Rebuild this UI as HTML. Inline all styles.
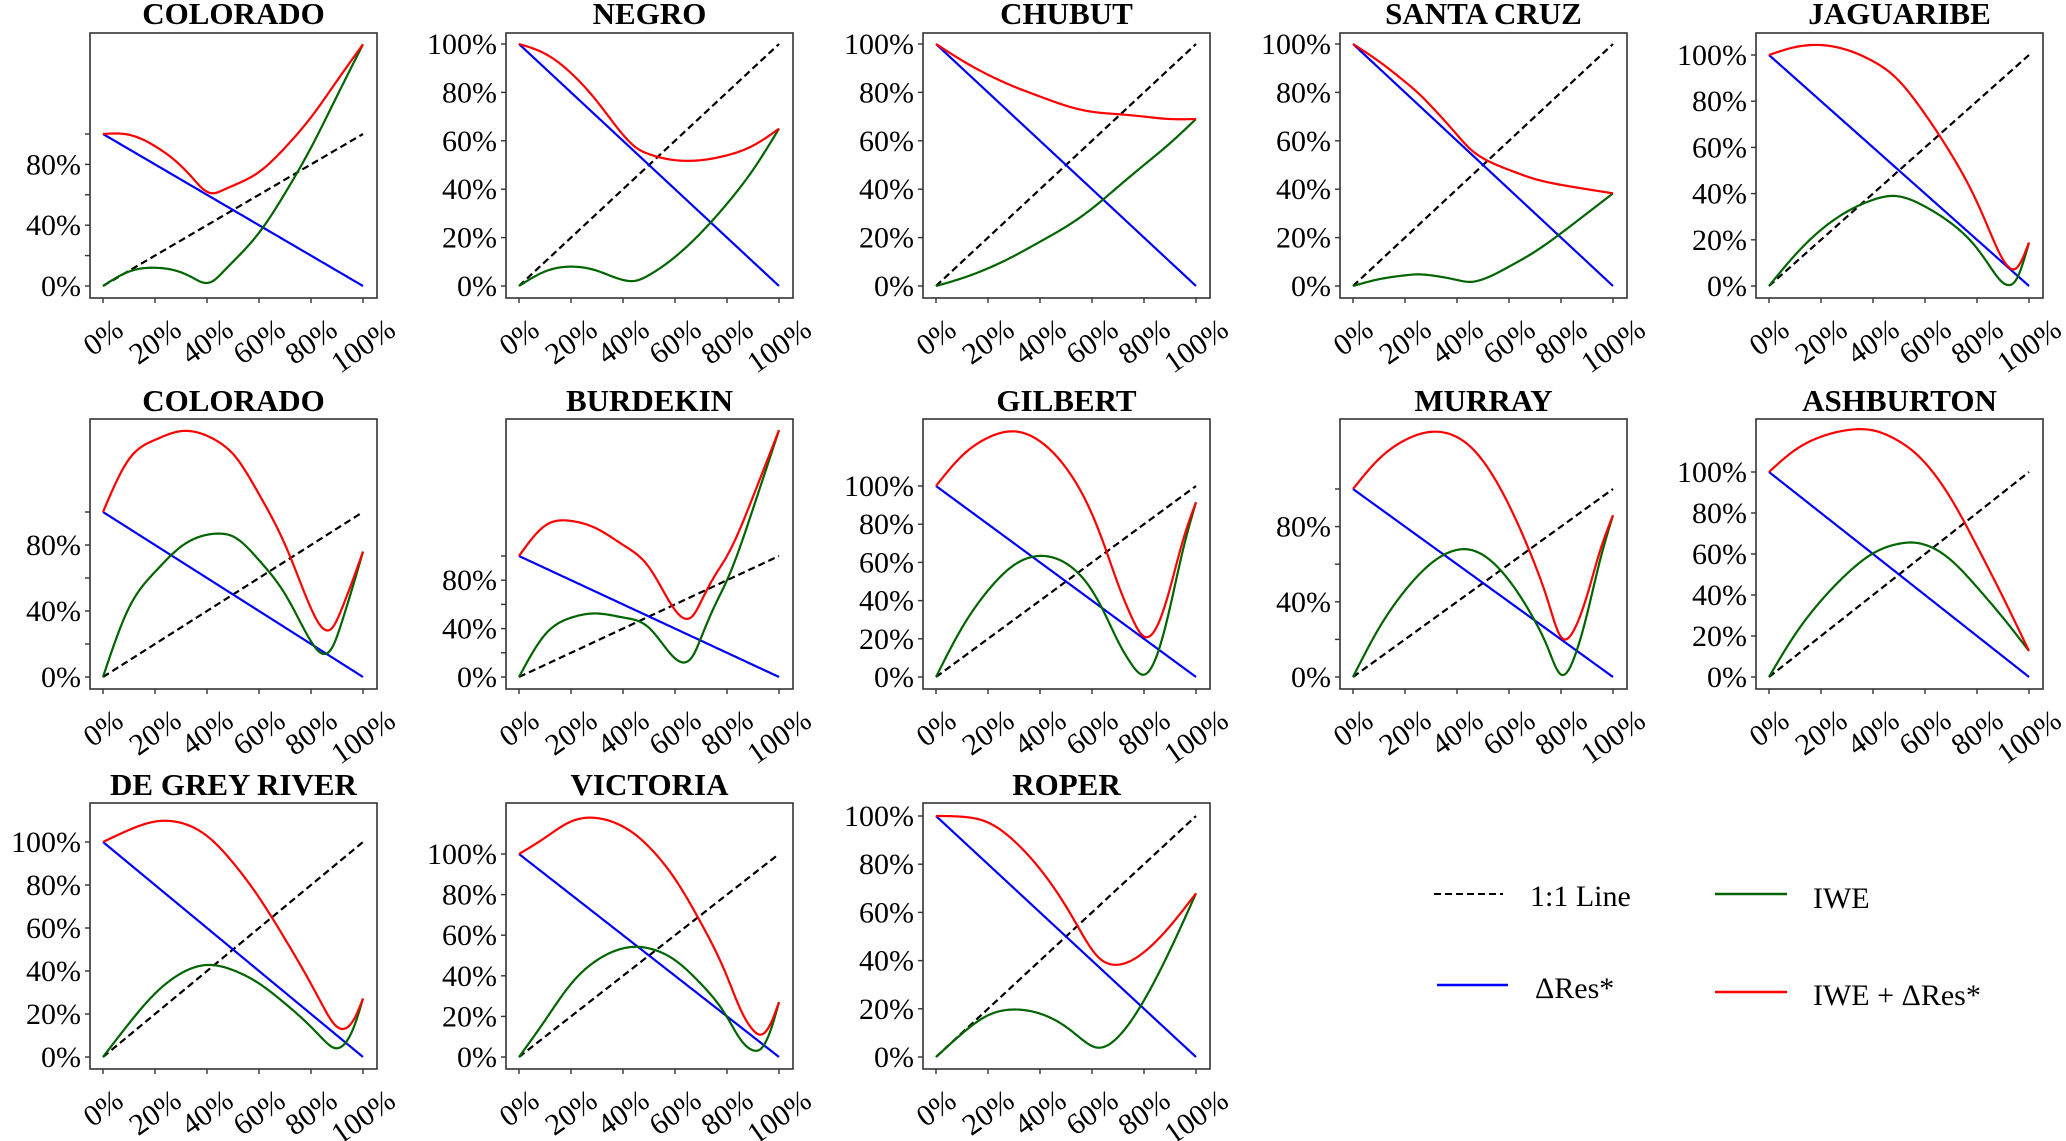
<!DOCTYPE html>
<html><head><meta charset="utf-8"><title>River panels</title>
<style>
html,body{margin:0;padding:0;background:#fff;}
svg{display:block;font-family:"Liberation Serif","DejaVu Serif",serif;}
text{font-family:"Liberation Serif","DejaVu Serif",serif;}
</style></head>
<body>
<svg id="fig" width="2066" height="1141" viewBox="0 0 2066 1141" xmlns="http://www.w3.org/2000/svg" font-family="Liberation Serif, serif">
  <g>
    <line x1="1434" y1="894" x2="1503" y2="894" stroke="#000" stroke-width="2" stroke-dasharray="7,4"/>
    <text x="1530" y="906" font-size="30">1:1 Line</text>
    <line x1="1715" y1="894" x2="1787" y2="894" stroke="#006400" stroke-width="2.5"/>
    <text x="1813" y="908" font-size="30">IWE</text>
    <line x1="1437" y1="985" x2="1508" y2="985" stroke="#0000ff" stroke-width="2.5"/>
    <text x="1535" y="998" font-size="30">ΔRes*</text>
    <line x1="1715" y1="992" x2="1787" y2="992" stroke="#ff0000" stroke-width="2.5"/>
    <text x="1813" y="1005" font-size="30">IWE + ΔRes*</text>
  </g>
</svg>
<script>
// ---- data (x = % of range, IWE = % values) ----
const coloradoAX   = [0,10,20,30,35,38,42,46,50,60,70,80,90,100];
const coloradoAIWE = [0,9.5,12,9,5,2.5,3,9,16,35,61,91,125,159];
const negroX   = [0,10,20,30,40,45,50,60,70,80,90,100];
const negroIWE = [0,6,8,6.3,2.5,2.2,4.5,12,22,34,48,65];
const chubutX   = [0,10,20,30,40,50,60,70,80,90,100];
const chubutIWE = [0,3.2,7.3,12.4,18.3,24.5,32,41,50,59,69];
const santaCruzX   = [0,10,20,25,30,40,45,50,60,70,80,90,100];
const santaCruzIWE = [0,2.8,4.4,4.8,4.4,2.5,1.7,2.8,8,14.2,21.8,30,38.3];
const jaguaribeX   = [0,10,20,30,40,48,60,70,80,85,90,92,95,100];
const jaguaribeIWE = [0,13.4,24.3,32.2,37.3,39,34.4,27.2,16.3,8.4,1.4,0.4,2.6,18.8];
const coloradoBX   = [0,10,20,30,40,45,50,60,70,75,80,84,88,92,96,100];
const coloradoBIWE = [0,42,63.7,79,86.2,86.9,85.2,70.8,50.3,36,21.6,14.4,17.5,34,54.4,76];
const burdekinX   = [0,10,20,30,40,50,55,60,63,67,70,75,80,90,100];
const burdekinIWE = [0,35,49,52.5,49.2,40.7,28,15.4,12,18,32.3,57.6,80,139,204];
const gilbertX   = [0,10,20,30,40,50,60,65,70,75,80,85,90,95,100];
const gilbertIWE = [0,25.8,45.3,58.6,63.4,59.5,45.3,32.9,18.7,7.1,1.2,11.5,36.4,66.6,91.5];
const murrayX   = [0,10,20,30,40,43,50,60,70,75,80,85,90,95,100];
const murrayIWE = [0,26,46,60.4,67.6,68,64.9,51.4,29.7,15.3,1.3,10,33.3,62,86];
const ashburtonX   = [0,10,20,30,40,50,55,60,70,80,90,100];
const ashburtonIWE = [0,20.7,37.2,50.4,60.3,65,65.6,64.5,57,43.8,28.9,12.7];
const deGreyX   = [0,10,20,30,40,50,60,70,80,85,89,93,97,100];
const deGreyIWE = [0,15.6,29.5,38.9,42.8,40.4,34.2,24.9,14,7.8,4.2,6.2,15.6,27.2];
const victoriaX   = [0,10,20,30,40,45,50,60,70,80,85,90,93,97,100];
const victoriaIWE = [0,18,36,47.7,53.5,54.3,53.5,47.7,36,19.7,9,3.3,4,14,27.1];
const roperX   = [0,10,20,30,40,50,55,62,70,80,90,100];
const roperIWE = [0,9.7,17.3,19.7,18,12.5,8.3,3.9,8.3,23.5,44.3,67.9];
const dresX = [0,100];
const dresY = [100,0];
const oneToOneX = [0,100];
const oneToOneY = [0,100];
const xTicks = [0,20,40,60,80,100];
const xTickLabels = ['0%','20%','40%','60%','80%','100%'];
const yTicks = [0,20,40,60,80,100];
const yTickLabels = ['0%','20%','40%','60%','80%','100%'];

// ---- layout ----
const colLeft = [90,506,923,1340,1756];
const rows = [{top:33,bottom:298,y0:286,titleY:24},{top:419,bottom:689,y0:677,titleY:411},{top:803,bottom:1069,y0:1057,titleY:795}];
const panels = [
 {name:'COLORADO',key:'colorado-1',c:0,r:0,y100:134,lab:[0,40,80],x:coloradoAX,y:coloradoAIWE},
 {name:'NEGRO',key:'negro',c:1,r:0,y100:44,lab:null,x:negroX,y:negroIWE},
 {name:'CHUBUT',key:'chubut',c:2,r:0,y100:44,lab:null,x:chubutX,y:chubutIWE},
 {name:'SANTA CRUZ',key:'santa-cruz',c:3,r:0,y100:44,lab:null,x:santaCruzX,y:santaCruzIWE},
 {name:'JAGUARIBE',key:'jaguaribe',c:4,r:0,y100:55,lab:null,x:jaguaribeX,y:jaguaribeIWE},
 {name:'COLORADO',key:'colorado-2',c:0,r:1,y100:512,lab:[0,40,80],x:coloradoBX,y:coloradoBIWE},
 {name:'BURDEKIN',key:'burdekin',c:1,r:1,y100:556,lab:[0,40,80],x:burdekinX,y:burdekinIWE},
 {name:'GILBERT',key:'gilbert',c:2,r:1,y100:486,lab:null,x:gilbertX,y:gilbertIWE},
 {name:'MURRAY',key:'murray',c:3,r:1,y100:489,lab:[0,40,80],x:murrayX,y:murrayIWE},
 {name:'ASHBURTON',key:'ashburton',c:4,r:1,y100:472,lab:null,x:ashburtonX,y:ashburtonIWE},
 {name:'DE GREY RIVER',key:'de-grey-river',c:0,r:2,y100:842,lab:null,x:deGreyX,y:deGreyIWE},
 {name:'VICTORIA',key:'victoria',c:1,r:2,y100:854,lab:null,x:victoriaX,y:victoriaIWE},
 {name:'ROPER',key:'roper',c:2,r:2,y100:816,lab:null,x:roperX,y:roperIWE}
];

const NS='http://www.w3.org/2000/svg';
const svg=document.getElementById('fig');
const FONT='"Liberation Serif", "DejaVu Serif", serif';
function mk(tag,attrs,parent){const e=document.createElementNS(NS,tag);for(const k in attrs)e.setAttribute(k,attrs[k]);parent.appendChild(e);return e;}

function spline(xs,ys){
  const n=xs.length; if(n<3){return x=>ys[0]+(ys[n-1]-ys[0])*(x-xs[0])/(xs[n-1]-xs[0]);}
  const h=[],a=[],l=[1],mu=[0],z=[0],c=new Array(n).fill(0),b=[],d=[];
  for(let i=0;i<n-1;i++)h.push(xs[i+1]-xs[i]);
  for(let i=1;i<n-1;i++)a[i]=3/h[i]*(ys[i+1]-ys[i])-3/h[i-1]*(ys[i]-ys[i-1]);
  for(let i=1;i<n-1;i++){l[i]=2*(xs[i+1]-xs[i-1])-h[i-1]*mu[i-1];mu[i]=h[i]/l[i];z[i]=(a[i]-h[i-1]*z[i-1])/l[i];}
  l[n-1]=1;z[n-1]=0;c[n-1]=0;
  for(let j=n-2;j>=0;j--){c[j]=z[j]-mu[j]*c[j+1];b[j]=(ys[j+1]-ys[j])/h[j]-h[j]*(c[j+1]+2*c[j])/3;d[j]=(c[j+1]-c[j])/(3*h[j]);}
  return x=>{let i=0;while(i<n-2&&x>xs[i+1])i++;const t=x-xs[i];return ys[i]+b[i]*t+c[i]*t*t+d[i]*t*t*t;};
}
function lin(xs,ys){return x=>{let i=0;while(i<xs.length-2&&x>xs[i+1])i++;return ys[i]+(ys[i+1]-ys[i])*(x-xs[i])/(xs[i+1]-xs[i]);};}

panels.forEach(p=>{
  const row=rows[p.r], left=colLeft[p.c], right=left+287;
  const sx=v=>left+13+v/100*260;
  const sy=v=>row.y0-v/100*(row.y0-p.y100);
  const g=mk('g',{},svg);
  
  
  const t=mk('text',{x:(left+right)/2,y:row.titleY,'text-anchor':'middle','font-size':31,'font-weight':'bold','font-family':FONT},g);
  
  
  t.textContent=p.name;
  const cid='clip-'+p.key;
  const cp=mk('clipPath',{id:cid},g);
  mk('rect',{x:left,y:row.top,width:287,height:row.bottom-row.top},cp);
  const f=spline(p.x,p.y), fd=lin(dresX,dresY), fo=lin(oneToOneX,oneToOneY);
  const lines=[
    ['one-to-one-line',v=>fo(v),'#000','7,4',oneToOneX[0],oneToOneX[oneToOneX.length-1]],
    ['dres-line',v=>fd(v),'#0000ff',null,dresX[0],dresX[dresX.length-1]],
    ['iwe-line',v=>f(v),'#006400',null,p.x[0],p.x[p.x.length-1]],
    ['iwe-plus-dres-line',v=>f(v)+fd(v),'#ff0000',null,p.x[0],p.x[p.x.length-1]]
  ];
  lines.forEach(L=>{
    let d='';const N=200;
    for(let i=0;i<=N;i++){const v=L[4]+(L[5]-L[4])*i/N;d+=(i?'L':'M')+sx(v).toFixed(2)+','+sy(L[1](v)).toFixed(2);}
    const a={d:d,fill:'none',stroke:L[2],'stroke-width':2.2,'clip-path':'url(#'+cid+')'};
    if(L[3])a['stroke-dasharray']=L[3];
    const path=mk('path',a,g);
    
    
  });
  const box=mk('rect',{x:left,y:row.top,width:287,height:row.bottom-row.top,fill:'none',stroke:'#333',"stroke-width":1.6},g);
  
  
  yTicks.forEach((v,i)=>{
    const y=sy(v);
    mk('line',{x1:left-5,x2:left,y1:y,y2:y,stroke:'#333','stroke-width':1.4},g);
    if(!p.lab||p.lab.indexOf(v)>=0){
      const tx=mk('text',{x:left-9,y:y+10,'text-anchor':'end','font-size':30,'font-family':FONT},g);
      
      
      tx.textContent=yTickLabels[i];
    }
  });
  xTicks.forEach((v,i)=>{
    const x=sx(v);
    mk('line',{x1:x,x2:x,y1:row.bottom,y2:row.bottom+5,stroke:'#333','stroke-width':1.4},g);
    const tx=mk('text',{x:0,y:10,'text-anchor':'middle','font-size':30,'font-family':FONT},g);
    
    
    tx.textContent=xTickLabels[i];
    const W=tx.getComputedTextLength(), H=21, ang=35*Math.PI/180;
    const bh=W*Math.sin(ang)+H*Math.cos(ang);
    tx.setAttribute('transform','translate('+x+','+(row.bottom+19+bh/2)+') rotate(-35)');
  });
});
</script>
</body></html>
